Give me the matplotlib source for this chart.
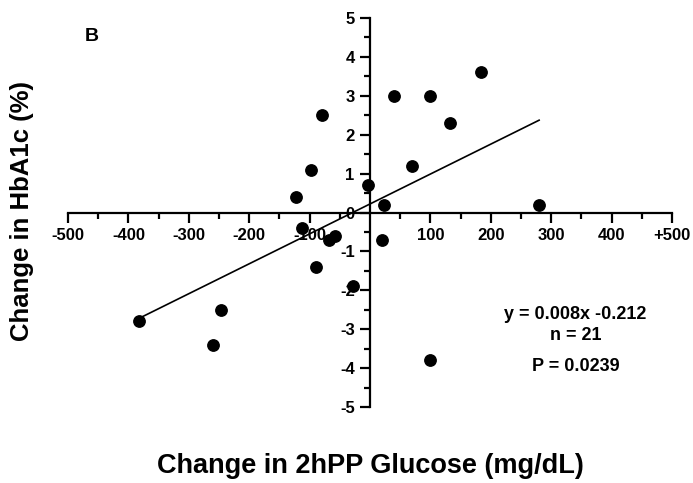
import matplotlib
matplotlib.use("Agg")
import matplotlib.pyplot as plt
import numpy as np

# change in 2hPP glucose (mg/dL) vs change in HbA1c (%)
glucose_change = [-80, -98, -123, -3, -112, 40, 100, 184, 132, 69, 23, 280,
                  -383, -260, -246, -90, -68, -58, -28, 20, 100]
hba1c_change = [2.5, 1.1, 0.4, 0.7, -0.4, 3.0, 3.0, 3.6, 2.3, 1.2, 0.2, 0.2,
                -2.8, -3.4, -2.5, -1.4, -0.7, -0.6, -1.9, -0.7, -3.8]

x_ticks = [-500, -400, -300, -200, -100, 100, 200, 300, 400, 500]
x_tick_labels = ["-500", "-400", "-300", "-200", "-100", "100", "200", "300", "400", "+500"]
y_ticks = [-5, -4, -3, -2, -1, 0, 1, 2, 3, 4, 5]
y_tick_labels = [str(v) for v in y_ticks]

plt.rcParams["font.family"] = ["Liberation Sans", "DejaVu Sans"]
plt.rcParams["font.weight"] = "bold"

fig = plt.figure(figsize=(6.93, 4.83), dpi=100)
ax = fig.add_axes([0.0981, 0.1573, 0.8716, 0.8054])

x = np.array(glucose_change, dtype=float)
y = np.array(hba1c_change, dtype=float)
slope, intercept = np.polyfit(x, y, 1)
xs = np.array([x.min(), x.max()])
ax.plot(xs, slope * xs + intercept, color="black", lw=1.2, zorder=2)
ax.plot(x, y, "o", color="black", ms=8.2, zorder=3)

ax.set_xlim(-500, 500)
ax.set_ylim(-5, 5)
ax.spines["left"].set_position(("data", 0))
ax.spines["bottom"].set_position(("data", 0))
ax.spines["right"].set_visible(False)
ax.spines["top"].set_visible(False)
for s in ("left", "bottom"):
    ax.spines[s].set_linewidth(1.6)

ax.set_xticks(x_ticks)
ax.set_xticklabels(x_tick_labels)
ax.set_xticks(np.arange(-450, 500, 100), minor=True)
ax.set_yticks(y_ticks)
ax.set_yticklabels(y_tick_labels)
ax.set_yticks(np.arange(-4.5, 5, 1.0), minor=True)
ax.tick_params(which="major", direction="out", length=7, width=1.6,
               labelsize=12, pad=4)
ax.tick_params(which="minor", direction="out", length=4, width=1.6)
for lab in ax.get_xticklabels() + ax.get_yticklabels():
    lab.set_fontweight("bold")

fig.text(0.534, 0.035, "Change in 2hPP Glucose (mg/dL)", ha="center", va="center",
         fontsize=19.5, fontweight="bold")
fig.text(0.032, 0.563, "Change in HbA1c (%)", ha="center", va="center",
         rotation=90, fontsize=18.5, fontweight="bold")
fig.text(0.133, 0.925, "B", ha="center", va="center", fontsize=14, fontweight="bold")

ax.text(340, -2.62, "y = 0.008x -0.212", ha="center", va="center", fontsize=13, fontweight="bold")
ax.text(340, -3.16, "n = 21", ha="center", va="center", fontsize=13, fontweight="bold")
ax.text(340, -3.96, "P = 0.0239", ha="center", va="center", fontsize=13, fontweight="bold")

fig.savefig("out.png", dpi=100)
